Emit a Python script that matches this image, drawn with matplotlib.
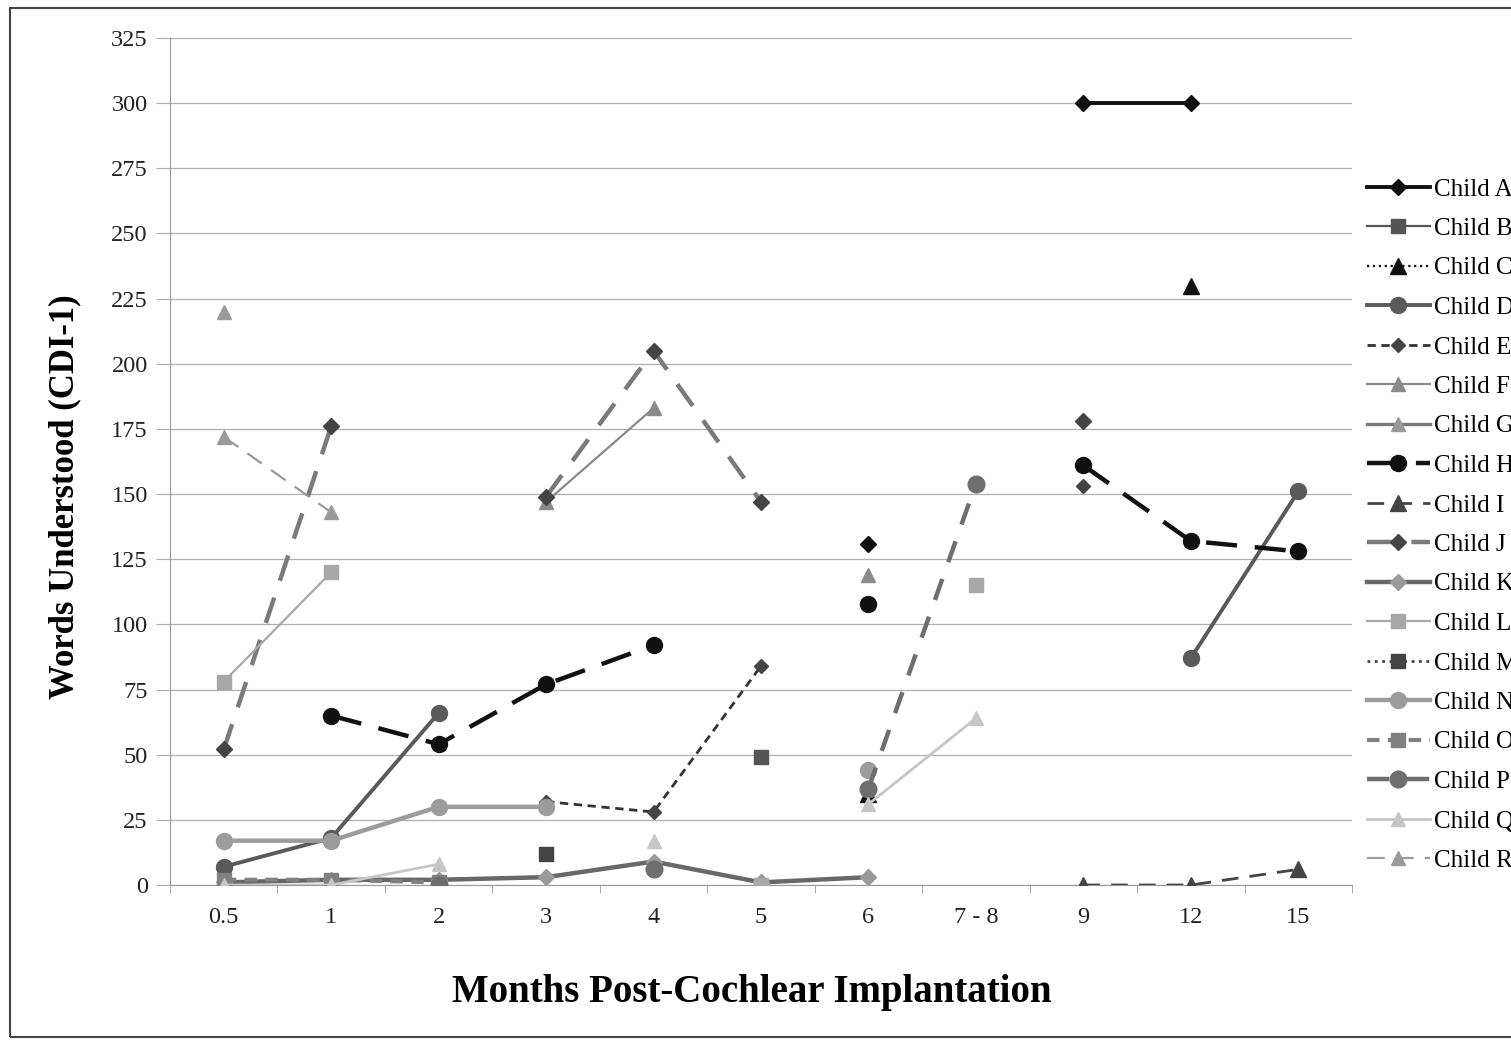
import numpy as np
import matplotlib
matplotlib.use("Agg")
import matplotlib.pyplot as plt
from matplotlib.patches import Rectangle

n = None

months = ["0.5", "1", "2", "3", "4", "5", "6", "7 - 8", "9", "12", "15"]
yticks = [0, 25, 50, 75, 100, 125, 150, 175, 200, 225, 250, 275, 300, 325]

# words understood per child, None = not measured
child_a = [n, n, n, n, n, n, 131, n, 300, 300, n]
child_b = [n, n, n, n, n, 49, n, n, n, n, n]
child_c = [n, n, n, n, n, n, 35, n, n, 230, n]
child_d = [7, 18, 66, n, n, n, n, n, n, 87, 151]
child_e = [n, n, n, 32, 28, 84, n, n, 153, n, n]
child_f = [n, n, n, 147, 183, n, 119, n, n, n, n]
child_g = [220, n, n, n, n, n, n, n, n, n, n]
child_h = [n, 65, 54, 77, 92, n, 108, n, 161, 132, 128]
child_i = [n, n, n, n, n, n, n, n, 0, 0, 6]
child_j = [52, 176, n, 149, 205, 147, n, n, 178, n, n]
child_k = [1, 2, 2, 3, 9, 1, 3, n, n, n, n]
child_l = [78, 120, n, n, n, 0, n, 115, n, n, n]
child_m = [n, n, n, 12, n, n, n, n, n, n, n]
child_n = [17, 17, 30, 30, n, n, 44, n, n, n, n]
child_o = [2, 2, 1, n, n, n, n, n, n, n, n]
child_p = [n, n, 0, n, 6, n, 37, 154, n, n, n]
child_q = [0, 0, 8, n, 17, n, 31, 64, n, n, n]
child_r = [172, 143, n, n, n, n, n, n, n, n, n]

plt.rcParams["font.family"] = ["Liberation Serif", "DejaVu Serif"]

fig = plt.figure(figsize=(15.11, 10.40), dpi=100)
fig.patch.set_facecolor("white")
ax = fig.add_axes([170 / 1511, 1 - 885 / 1040, (1352 - 170) / 1511, (885 - 38) / 1040])

x = np.arange(len(months))

# (label, data, line colour, linestyle, linewidth, marker, marker colour, marker size)
styles = [
    ("Child A", child_a, "#111111", "-", 2.8, "D", "#111111", 8),
    ("Child B", child_b, "#555555", "-", 1.6, "s", "#555555", 10),
    ("Child C", child_c, "#111111", ":", 1.6, "^", "#111111", 11),
    ("Child D", child_d, "#5a5a5a", "-", 2.8, "o", "#5a5a5a", 11.5),
    ("Child E", child_e, "#333333", (0, (3, 2)), 2.0, "D", "#444444", 7),
    ("Child F", child_f, "#8a8a8a", "-", 1.6, "^", "#8a8a8a", 10),
    ("Child G", child_g, "#7a7a7a", "-", 2.4, "^", "#9a9a9a", 10),
    ("Child H", child_h, "#111111", (0, (7, 4)), 3.2, "o", "#111111", 11.5),
    ("Child I", child_i, "#444444", (0, (6, 4)), 2.0, "^", "#444444", 12),
    ("Child J", child_j, "#7a7a7a", (0, (6, 4)), 3.2, "D", "#444444", 8),
    ("Child K", child_k, "#686868", "-", 3.2, "D", "#9a9a9a", 8),
    ("Child L", child_l, "#a8a8a8", "-", 1.6, "s", "#a8a8a8", 10),
    ("Child M", child_m, "#444444", ":", 2.0, "s", "#444444", 10),
    ("Child N", child_n, "#9c9c9c", "-", 3.2, "o", "#9c9c9c", 11.5),
    ("Child O", child_o, "#808080", (0, (3, 2)), 3.0, "s", "#808080", 10),
    ("Child P", child_p, "#6e6e6e", (0, (5, 4)), 3.2, "o", "#6e6e6e", 12),
    ("Child Q", child_q, "#c6c6c6", "-", 2.0, "^", "#c6c6c6", 10),
    ("Child R", child_r, "#9a9a9a", (0, (8, 5)), 1.6, "^", "#9a9a9a", 10),
]

for label, vals, color, ls, lw, mk, mc, ms in styles:
    y = np.array(vals, dtype=float)
    ax.plot(x, y, color=color, linestyle=ls, linewidth=lw, marker=mk,
            markerfacecolor=mc, markeredgecolor=mc, markersize=ms, label=label,
            zorder=3)

ax.set_xlim(-0.5, len(months) - 0.5)
ax.set_ylim(0, 325)
ax.set_yticks(yticks)
ax.set_xticks(x)
ax.set_xticklabels(months)
ax.set_xticks(np.arange(-0.5, len(months), 1.0), minor=True)
ax.tick_params(axis="x", which="major", length=0, pad=16, labelsize=17.5, labelcolor="#222222")
ax.tick_params(axis="x", which="minor", length=6, color="#999999", direction="out")
ax.tick_params(axis="y", length=10, color="#aaaaaa", labelsize=17.5, pad=6, labelcolor="#222222")
ax.yaxis.grid(True, color="#b0b0b0", linewidth=0.9)
ax.set_axisbelow(True)
for side in ["top", "right"]:
    ax.spines[side].set_visible(False)
ax.spines["left"].set_color("#999999")
ax.spines["bottom"].set_color("#999999")

ax.set_ylabel("Words Understood (CDI-1)", fontsize=25, fontweight="bold")
ax.yaxis.set_label_coords(-0.089, 0.458)
ax.set_xlabel("Months Post-Cochlear Implantation", fontsize=28, fontweight="bold")
ax.xaxis.set_label_coords(0.492, -0.1275)
ax.xaxis.label.set_verticalalignment("center")
ax.yaxis.label.set_verticalalignment("center")

fig.legend(loc="upper left", bbox_to_anchor=(1357 / 1511, 1 - 168 / 1040),
           frameon=False, fontsize=18, handlelength=2.5, handletextpad=0.2,
           labelspacing=0.68, borderaxespad=0)

# outer border of the chart
fig.patches.append(Rectangle((10 / 1511, 3 / 1040), 1.1, 1 - 11 / 1040,
                             transform=fig.transFigure, fill=False,
                             edgecolor="#444444", linewidth=1.5))

fig.savefig("out.png", dpi=100)
